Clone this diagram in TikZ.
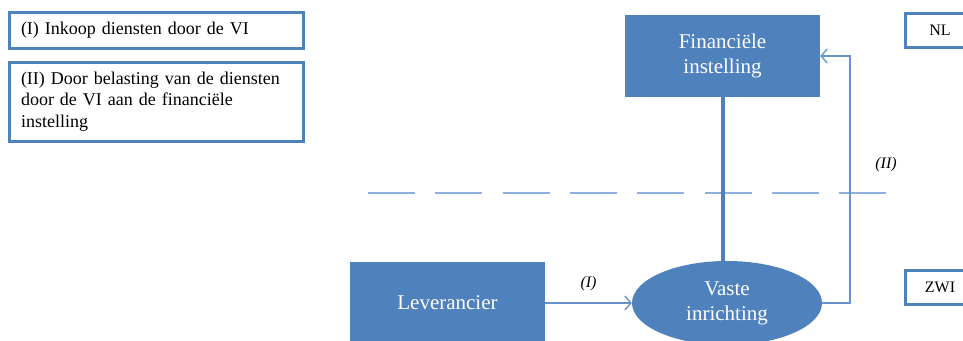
\documentclass[tikz,border=0pt]{standalone}
\usepackage{fontspec}
\setmainfont{Liberation Serif}
\usetikzlibrary{arrows.meta,shapes.geometric}
\definecolor{vblue}{HTML}{4F81BD}
\definecolor{vline}{HTML}{6892CB}
\definecolor{vdash}{HTML}{8DB0DC}

\begin{document}
\begin{tikzpicture}[x=1pt,y=-1pt,
    legend/.style={draw=vblue, line width=3pt, fill=white, inner xsep=12pt,
      align=left, font=\fontsize{18}{21.5}\selectfont},
    tag/.style={draw=vblue, line width=3pt, fill=white, minimum width=70pt,
      minimum height=34pt, font=\fontsize{16}{19}\selectfont},
    party/.style={fill=vblue, text=white, inner sep=0pt, align=center,
      font=\fontsize{21}{25}\selectfont},
    flow/.style={draw=vline, line width=1.4pt, -{Straight Barb[length=6pt,width=14pt]}},
    lbl/.style={font=\fontsize{16}{19}\selectfont\itshape}]
    \useasboundingbox (0,0) rectangle (963,340);

    \node[legend, text width=270pt, minimum height=36pt] (inkoop) at (156,30)
      {(I) Inkoop diensten door de VI};
    \node[legend, text width=270pt, minimum height=79pt] (doorbel) at (156,101.5)
      {(II) Door belasting van de diensten\\door de VI aan de financiële\\instelling};

    \node[tag] (nl) at (940,30) {NL};
    \node[tag] (zwi) at (940,287) {ZWI};

    \coordinate (dashL) at (368,193);
    \coordinate (dashR) at (887,193);
    \draw[vdash, line width=1.6pt, dash pattern=on 47pt off 20.3pt] (dashL) -- (dashR);

    \node[party, minimum width=195pt, minimum height=82pt] (fin) at (722.5,56)
      {Financiële\\instelling};
    \node[party, minimum width=195pt, minimum height=82pt] (lev) at (447.5,303)
      {Leverancier};
    \node[party, ellipse, minimum width=190pt, minimum height=84pt] (vi) at (727,303)
      {Vaste\\inrichting};

    \draw[vblue, line width=4pt] ([yshift=2pt]fin.south) -- (fin.south |- vi.north);

    \draw[flow] (lev.east) -- node[lbl, above=8pt] (tagI) {(I)} (vi.west);
    \coordinate (bend) at (850,56);
    \draw[flow] (vi.east) -| (bend) -- (fin.east);
    \node[lbl] (tagII) at (886,165) {(II)};
\end{tikzpicture}
\end{document}
